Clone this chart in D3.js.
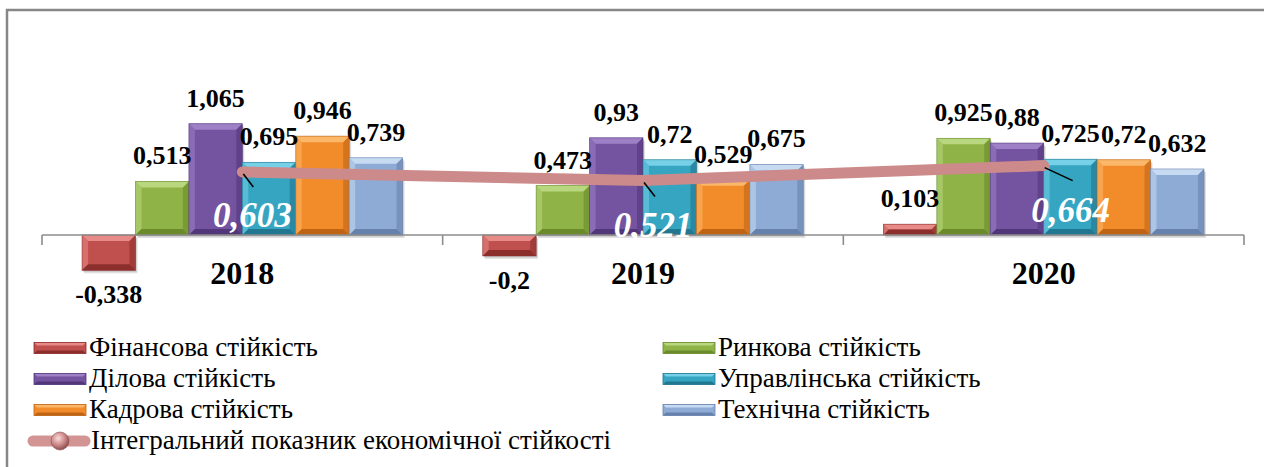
<!DOCTYPE html>
<html><head><meta charset="utf-8">
<script src="https://cdn.jsdelivr.net/npm/d3@7/dist/d3.min.js"></script>
<style>
  @font-face { font-family: "ChartSerif"; font-weight: normal; font-style: normal;
    src: local("Liberation Serif"), local("LiberationSerif"), local("Tinos"), local("Times New Roman"); }
  @font-face { font-family: "ChartSerif"; font-weight: bold; font-style: normal;
    src: local("Liberation Serif Bold"), local("LiberationSerif-Bold"), local("Tinos Bold"); }
  @font-face { font-family: "ChartSerif"; font-weight: bold; font-style: italic;
    src: local("Liberation Serif Bold Italic"), local("LiberationSerif-BoldItalic"), local("Tinos Bold Italic"); }
</style>
</head>
<body style="margin:0">
<svg id="chart" width="1264" height="467"></svg>
<script>
// data
var years = ["2018", "2019", "2020"];
var seriesNames = ["Фінансова стійкість", "Ринкова стійкість", "Ділова стійкість",
                   "Управлінська стійкість", "Кадрова стійкість", "Технічна стійкість"];
var finansova = [-0.338, -0.2, 0.103];
var rynkova = [0.513, 0.473, 0.925];
var dilova = [1.065, 0.93, 0.88];
var upravlinska = [0.695, 0.72, 0.725];
var kadrova = [0.946, 0.529, 0.72];
var technichna = [0.739, 0.675, 0.632];
var integralName = "Інтегральний показник економічної стійкості";
var integral = [0.603, 0.521, 0.664];

var seriesValues = [finansova, rynkova, dilova, upravlinska, kadrova, technichna];

// colours: base, light bevel, dark bevel
var palette = [
  ["#C0504D", "#E88A87", "#8C2F2C"],
  ["#8FB347", "#B9D77F", "#6A8A2C"],
  ["#7453A0", "#9D80C6", "#51377A"],
  ["#35A5C2", "#76D0E8", "#21778F"],
  ["#F28C2B", "#FBB86A", "#BF6415"],
  ["#8EABD6", "#C6DAF2", "#6682AC"]
];
var lineColor = "#CD8A8A";

// label nudges for the integral line labels (layout only)
var lineLabelDx = [10, 10, 27];
var lineLabelDy = [55, 56, 56];
var leaderEnd = [[11, 15], [12, 16], [29, 15]];

var FAMILY = "font-family:'Liberation Serif','ChartSerif','Tinos','Times New Roman';";

var svg = d3.select("#chart");

var defs = svg.append("defs");
var sphere = defs.append("radialGradient").attr("id", "sphere")
  .attr("cx", "40%").attr("cy", "35%").attr("r", "65%");
sphere.append("stop").attr("offset", "0%").attr("stop-color", "#F8DCDC");
sphere.append("stop").attr("offset", "55%").attr("stop-color", "#D08C8C");
sphere.append("stop").attr("offset", "100%").attr("stop-color", "#8E4F4F");

// frame
svg.append("path")
  .attr("d", "M7,467 L7,10 L1264,10")
  .attr("fill", "none").attr("stroke", "#878787").attr("stroke-width", 2.5);

// scales
var x0 = d3.scaleBand().domain(years).range([42, 1244]);
var x1 = d3.scaleBand().domain(d3.range(seriesNames.length))
  .range([0, x0.bandwidth()]).paddingOuter(0.75);
var y = d3.scaleLinear().domain([-0.4, 1.2]).range([235 + 0.4 * 104.5, 235 - 1.2 * 104.5]);

// bars with bevel look
function bevelBar(g, x, w, v, col) {
  var top = Math.min(y(v), y(0)), bot = Math.max(y(v), y(0));
  var h = bot - top;
  var b = Math.min(6, h / 2);
  var bar = g.append("g");
  // soft shadow
  bar.append("rect").attr("x", x + 2).attr("y", top + 3).attr("width", w).attr("height", h)
    .attr("fill", "#000").attr("opacity", 0.12);
  bar.append("rect").attr("x", x + 1).attr("y", top + 1.5).attr("width", w).attr("height", h)
    .attr("fill", "#000").attr("opacity", 0.12);
  bar.append("rect").attr("x", x).attr("y", top).attr("width", w).attr("height", h)
    .attr("fill", col[0]);
  // top
  bar.append("path").attr("fill", col[1])
    .attr("d", "M" + x + "," + top + "L" + (x + w) + "," + top + "L" + (x + w - b) + "," + (top + b) +
      "L" + (x + b) + "," + (top + b) + "Z");
  // left
  bar.append("path").attr("fill", col[1]).attr("opacity", 0.55)
    .attr("d", "M" + x + "," + top + "L" + (x + b) + "," + (top + b) + "L" + (x + b) + "," + (bot - b) +
      "L" + x + "," + bot + "Z");
  // right
  bar.append("path").attr("fill", col[2]).attr("opacity", 0.6)
    .attr("d", "M" + (x + w) + "," + top + "L" + (x + w - b) + "," + (top + b) + "L" + (x + w - b) + "," + (bot - b) +
      "L" + (x + w) + "," + bot + "Z");
  // bottom
  bar.append("path").attr("fill", col[2])
    .attr("d", "M" + x + "," + bot + "L" + (x + w) + "," + bot + "L" + (x + w - b) + "," + (bot - b) +
      "L" + (x + b) + "," + (bot - b) + "Z");
  bar.append("rect").attr("x", x).attr("y", top).attr("width", w).attr("height", h)
    .attr("fill", "none").attr("stroke", col[2]).attr("stroke-width", 0.8).attr("stroke-opacity", 0.7);
}

var barsG = svg.append("g");
seriesValues.forEach(function(vals, s) {
  vals.forEach(function(v, i) {
    bevelBar(barsG, x0(years[i]) + x1(s), x1.bandwidth(), v, palette[s]);
  });
});

// axis
var axisG = svg.append("g").attr("stroke", "#8C8C8C").attr("stroke-width", 1.6);
axisG.append("line").attr("x1", x0.range()[0]).attr("x2", x0.range()[1])
  .attr("y1", y(0)).attr("y2", y(0));
var tickXs = years.map(function(d) { return x0(d); }).concat([x0.range()[1]]);
axisG.selectAll("line.tick").data(tickXs).enter().append("line")
  .attr("class", "tick")
  .attr("x1", function(d) { return d; }).attr("x2", function(d) { return d; })
  .attr("y1", y(0)).attr("y2", y(0) + 10);

years.forEach(function(d) {
  svg.append("text")
    .attr("x", x0(d) + x0.bandwidth() / 2).attr("y", 284)
    .attr("text-anchor", "middle")
    .attr("style", FAMILY + "font-weight:bold;font-size:32px;")
    .text(d);
});

// bar value labels
function fmt(v) { return String(v).replace(".", ","); }
seriesValues.forEach(function(vals, s) {
  vals.forEach(function(v, i) {
    svg.append("text")
      .attr("x", x0(years[i]) + x1(s) + x1.bandwidth() / 2)
      .attr("y", v >= 0 ? y(v) - 17 : y(v) + 33)
      .attr("text-anchor", "middle")
      .attr("style", FAMILY + "font-weight:bold;font-size:26px;")
      .text(fmt(v));
  });
});

// integral line
var pts = integral.map(function(v, i) { return [x0(years[i]) + x0.bandwidth() / 2, y(v)]; });
svg.append("path")
  .attr("d", d3.line()(pts))
  .attr("fill", "none").attr("stroke", lineColor).attr("stroke-width", 11)
  .attr("stroke-linecap", "round").attr("stroke-linejoin", "round");

pts.forEach(function(p, i) {
  svg.append("line")
    .attr("x1", p[0] + 1).attr("y1", p[1] + 2)
    .attr("x2", p[0] + leaderEnd[i][0]).attr("y2", p[1] + leaderEnd[i][1])
    .attr("stroke", "#000").attr("stroke-width", 1.6);
  svg.append("text")
    .attr("x", p[0] + lineLabelDx[i]).attr("y", p[1] + lineLabelDy[i])
    .attr("text-anchor", "middle")
    .attr("style", FAMILY + "font-weight:bold;font-style:italic;font-size:35px;fill:#fff;")
    .text(fmt(integral[i]));
});

// legend
var legendCols = [34, 663];
var legendW = [52, 52];
var legendRow0 = 348, legendStep = 31;
seriesNames.forEach(function(name, s) {
  var col = s % 2, row = Math.floor(s / 2);
  var lx = legendCols[col], cy = legendRow0 + row * legendStep;
  var w = legendW[col], h = 11, top = cy - h / 2;
  svg.append("rect").attr("x", lx).attr("y", top).attr("width", w).attr("height", h).attr("fill", palette[s][0]);
  svg.append("path").attr("fill", palette[s][1])
    .attr("d", "M" + lx + "," + top + "L" + (lx + w) + "," + top + "L" + (lx + w - 3) + "," + (top + 3) + "L" + (lx + 3) + "," + (top + 3) + "Z");
  svg.append("path").attr("fill", palette[s][2])
    .attr("d", "M" + lx + "," + (top + h) + "L" + (lx + w) + "," + (top + h) + "L" + (lx + w - 3) + "," + (top + h - 3) + "L" + (lx + 3) + "," + (top + h - 3) + "Z");
  svg.append("rect").attr("x", lx).attr("y", top).attr("width", w).attr("height", h)
    .attr("fill", "none").attr("stroke", palette[s][2]).attr("stroke-width", 0.8);
  svg.append("text").attr("x", lx + w + 3).attr("y", cy + 8)
    .attr("style", FAMILY + "font-size:27px;")
    .text(name);
});
var ly = legendRow0 + 3 * legendStep;
svg.append("line").attr("x1", 33).attr("x2", 85).attr("y1", ly).attr("y2", ly)
  .attr("stroke", "#D39494").attr("stroke-width", 11).attr("stroke-linecap", "round");
svg.append("circle").attr("cx", 60).attr("cy", ly).attr("r", 9)
  .attr("fill", "url(#sphere)").attr("stroke", "#8E4F4F").attr("stroke-width", 0.6);
svg.append("text").attr("x", 91).attr("y", ly + 8)
  .attr("style", FAMILY + "font-size:27px;")
  .text(integralName);
</script>
</body></html>
